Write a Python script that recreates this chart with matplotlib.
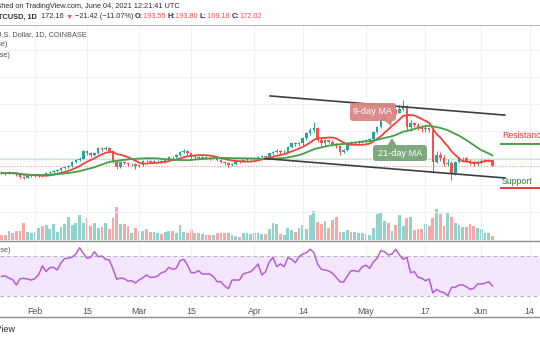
import numpy as np
import pandas as pd
import matplotlib
matplotlib.use("Agg")
import matplotlib.pyplot as plt
from matplotlib.patches import FancyBboxPatch, Polygon

plt.rcParams['font.family'] = ['Liberation Sans', 'DejaVu Sans']

# daily LTCUSD candles, Jan 23 - Jun 4 2021
dates = pd.date_range('2021-01-23', '2021-06-04', freq='D')
opens = [146, 144, 143, 146, 143, 139, 130, 126, 132, 133,
         135, 137, 135, 144, 148, 152, 154, 163, 167, 170,
         185, 193, 198, 226, 219, 211, 219, 237, 233, 237,
         226, 186, 168, 186, 180, 178, 178, 170, 174, 190,
         189, 185, 188, 190, 186, 193, 205, 203, 211, 222,
         226, 217, 205, 205, 201, 205, 201, 199, 201, 193,
         186, 180, 174, 178, 190, 189, 193, 195, 196, 199,
         205, 207, 205, 217, 223, 227, 222, 223, 242, 254,
         252, 254, 273, 292, 304, 312, 267, 254, 267, 260,
         252, 244, 223, 230, 257, 254, 258, 260, 263, 267,
         269, 297, 316, 341, 372, 366, 375, 368, 380, 392,
         314, 329, 322, 316, 306, 310, 304, 186, 211, 199,
         178, 183, 143, 186, 199, 199, 190, 180, 178, 186,
         190, 193, 193.55]
highs = [150, 148, 150, 149, 146, 141, 134, 135, 137, 139,
         141, 140, 147, 151, 156, 158, 166, 172, 175, 190,
         198, 204, 230, 230, 222, 223, 241, 240, 246, 240,
         228, 192, 190, 190, 184, 183, 181, 178, 193, 195,
         193, 192, 194, 194, 196, 208, 209, 214, 226, 232,
         230, 220, 210, 208, 208, 208, 205, 204, 204, 196,
         190, 184, 181, 193, 194, 196, 199, 200, 203, 208,
         211, 210, 220, 226, 232, 230, 228, 245, 258, 260,
         258, 276, 296, 310, 335, 315, 275, 270, 272, 265,
         256, 247, 234, 260, 262, 262, 266, 268, 270, 275,
         300, 320, 346, 378, 380, 382, 380, 395, 415, 395,
         340, 335, 330, 322, 318, 315, 308, 225, 222, 210,
         195, 190, 190, 205, 205, 203, 195, 188, 190, 195,
         196, 198, 193.80]
lows = [140, 138, 141, 139, 135, 126, 121, 124, 128, 130,
        131, 131, 133, 141, 145, 148, 151, 158, 162, 167,
        180, 188, 195, 212, 205, 207, 215, 226, 228, 220,
        180, 158, 164, 176, 172, 172, 160, 166, 171, 184,
        180, 182, 184, 181, 183, 190, 198, 199, 207, 218,
        212, 198, 198, 196, 198, 196, 194, 195, 189, 181,
        175, 168, 170, 175, 183, 185, 189, 191, 192, 195,
        200, 199, 203, 212, 218, 215, 217, 220, 238, 245,
        246, 250, 268, 286, 298, 260, 245, 250, 255, 246,
        238, 212, 220, 226, 248, 250, 253, 256, 258, 262,
        265, 292, 312, 338, 358, 360, 362, 365, 375, 305,
        300, 315, 305, 296, 298, 295, 144, 180, 190, 172,
        170, 118, 138, 180, 190, 186, 175, 170, 172, 181,
        185, 187, 169.18]
closes = [144, 143, 146, 143, 139, 130, 126, 132, 133, 135,
          137, 135, 144, 148, 152, 154, 163, 167, 170, 185,
          193, 198, 226, 219, 211, 219, 237, 233, 237, 226,
          186, 168, 186, 180, 178, 178, 170, 174, 190, 189,
          185, 188, 190, 186, 193, 205, 203, 211, 222, 226,
          217, 205, 205, 201, 205, 201, 199, 201, 193, 186,
          180, 174, 178, 190, 189, 193, 195, 196, 199, 205,
          207, 205, 217, 223, 227, 222, 223, 242, 254, 252,
          254, 273, 292, 304, 312, 267, 254, 267, 260, 252,
          244, 223, 230, 257, 254, 258, 260, 263, 267, 269,
          297, 316, 341, 372, 366, 375, 368, 380, 392, 314,
          329, 322, 316, 306, 310, 304, 186, 211, 199, 178,
          183, 143, 186, 199, 199, 190, 180, 178, 186, 190,
          193, 193.55, 172.02]
# volume, relative units
volume = [5, 5, 9, 7, 9, 9, 17, 8, 7, 8,
          12, 14, 15, 11, 16, 8, 13, 16, 23, 15,
          17, 25, 17, 22, 14, 17, 12, 13, 17, 11,
          22, 33, 16, 16, 14, 7, 12, 9, 9, 11,
          8, 8, 7, 6, 8, 9, 9, 7, 15, 8,
          7, 10, 7, 7, 6, 5, 5, 5, 7, 7,
          7, 7, 5, 4, 3, 7, 7, 6, 7, 7,
          6, 6, 11, 17, 16, 6, 5, 12, 10, 8,
          12, 15, 11, 25, 29, 18, 16, 19, 12, 20,
          23, 8, 8, 10, 8, 8, 7, 7, 6, 5,
          12, 26, 27, 19, 17, 9, 15, 25, 14, 22,
          23, 10, 11, 11, 16, 14, 22, 31, 26, 14,
          27, 23, 17, 15, 13, 13, 16, 14, 12, 11,
          7, 7, 4]
# RSI(14) as shown in the lower pane
rsi = [49.5, 50, 48, 46.3, 41, 47.3, 47.7, 47, 46, 47.3,
       51.5, 60, 54.5, 58.3, 58.7, 56, 63, 67.5, 67.7, 69,
       72, 78.3, 72.7, 67.7, 68.7, 74.3, 69.3, 70, 66.7, 66,
       57, 46.7, 48, 47.3, 45, 45.3, 43, 46, 48.3, 51,
       48.7, 48.7, 50, 53.3, 54.3, 58.7, 56.7, 57.7, 65.3, 66.7,
       61, 53.3, 53.3, 55.3, 52, 52, 52, 49.3, 44.3, 44.3,
       40, 37.3, 46, 46, 46, 52, 53.3, 54.3, 57.7, 62,
       51, 54.3, 64, 68.7, 59.3, 62, 59.3, 68.3, 66.7, 63.3,
       69.3, 72, 73.3, 76.7, 73.3, 62, 56.7, 56, 55, 52.7,
       48.7, 44.3, 44, 50, 55.3, 55.3, 54.3, 59.3, 60.7, 57.7,
       64, 67.7, 75.3, 74.3, 71, 72, 76.7, 71, 66.7, 68.7,
       53.3, 54.3, 48.7, 47.7, 45.3, 47, 33, 36.7, 34.3, 33.3,
       30.3, 38.7, 38.7, 41, 41, 39.3, 36.7, 37.7, 42, 42,
       42.7, 44.3, 40]

# channel lines drawn on the chart (date, price)
upper_line = [('2021-04-05 05:00', 430), ('2021-06-07 08:00', 359)]
lower_line = [('2021-04-03 19:00', 198), ('2021-06-07 08:00', 126)]

tick_dates = ['2021-02-01', '2021-02-15', '2021-03-01', '2021-03-15', '2021-04-01',
              '2021-04-14', '2021-05-01', '2021-05-17', '2021-06-01', '2021-06-14']
tick_labels = ['Feb', '15', 'Mar', '15', 'Apr', '14', 'May', '17', 'Jun', '14']

UP, DOWN = '#26a69a', '#ef5350'
df = pd.DataFrame({'open': opens, 'high': highs, 'low': lows,
                   'close': closes, 'vol': volume, 'rsi': rsi}, index=dates)
df['ma9'] = df['close'].rolling(9, min_periods=1).mean()
df['ma21'] = df['close'].rolling(21, min_periods=1).mean()

W, H = 540, 340
fig = plt.figure(figsize=(W / 100, H / 100), dpi=100)


def px_axes(x0, y0, x1, y1):
    return fig.add_axes([x0 / W, 1 - y1 / H, (x1 - x0) / W, (y1 - y0) / H])


x_lo = dates[0] - pd.Timedelta(days=0.4)
x_hi = dates[0] + pd.Timedelta(days=144.8)

ax = px_axes(0, 25, 540, 240)
ax_r = px_axes(0, 243, 540, 303)
for a in (ax, ax_r):
    a.set_xlim(x_lo, x_hi)
    a.set_xticks(pd.to_datetime(tick_dates))
    a.grid(axis='x', color='#eef2f7', lw=0.8)
    a.tick_params(length=0, labelleft=False, labelright=False, labelbottom=False)
    for s in a.spines.values():
        s.set_visible(False)
    a.set_axisbelow(True)

ax.set_ylim(-104, 693)
ax.set_yticks(range(0, 700, 100))
ax.grid(axis='y', color='#eef2f7', lw=0.8)
ax.spines['top'].set_visible(True)
ax.spines['top'].set_color('#b8bcc4')

# volume overlay
axv = ax.twinx()
axv.set_ylim(0, 215)
axv.axis('off')
up = df['close'] >= df['open']
vcol = np.where(up, UP, DOWN)
axv.bar(df.index, df['vol'], width=0.75, color=vcol, alpha=0.5, lw=0)
axv.set_zorder(ax.get_zorder() - 1)
ax.patch.set_visible(False)

# candles
ccol = np.where(up, UP, DOWN)
ax.vlines(df.index, df['low'], df['high'], colors=ccol, lw=0.7, zorder=3)
body = (df['close'] - df['open']).abs().clip(lower=1.2)
ax.bar(df.index, body, bottom=df[['open', 'close']].min(axis=1), width=0.7,
       color=ccol, lw=0, zorder=4)

ax.plot(df.index, df['ma9'], color='#f44336', lw=1.3, zorder=5)
ax.plot(df.index, df['ma21'], color='#43a047', lw=1.3, zorder=5)

ax.axhline(195, color='#cfe3cf', lw=0.9, zorder=2)
ax.axhline(df['close'].iloc[-1], color='#f0a090', lw=0.8, ls=(0, (1, 1.5)), zorder=2)

for pts in (upper_line, lower_line):
    xs = pd.to_datetime([p[0] for p in pts])
    ys = [p[1] for p in pts]
    ax.plot(xs, ys, color='#3b3e45', lw=1.2, zorder=6)

# RSI pane
ax_r.set_ylim(23, 83)
ax_r.set_yticks([40, 60])
ax_r.grid(axis='y', color='#eef2f7', lw=0.8)
ax_r.axhspan(30, 70, color='#f3e6fc', lw=0)
ax_r.axhline(70, color='#b0b3ba', lw=0.8, ls=(0, (3, 3)))
ax_r.axhline(30, color='#b0b3ba', lw=0.8, ls=(0, (3, 3)))
ax_r.plot(df.index, df['rsi'], color='#b35fcf', lw=1.1)
ax_r.set_xticklabels(tick_labels)
ax_r.tick_params(labelbottom=True, pad=3, labelsize=6.3, labelcolor='#50535e')

# overlay in pixel space for texts and annotations
ov = fig.add_axes([0, 0, 1, 1], zorder=20)
ov.set_xlim(0, W)
ov.set_ylim(H, 0)
ov.axis('off')
ov.patch.set_visible(False)

ov.plot([0, W], [240.5, 240.5], color='#8a8d94', lw=1)
ov.plot([0, W], [317, 317], color='#8a8d94', lw=1)

dark = '#2a2e39'
fs = 5.35
ov.text(180, 6, 'Published on TradingView.com, June 04, 2021 12:21:41 UTC',
        ha='right', va='center', fontsize=fs, color=dark)

fig.canvas.draw()
rend = fig.canvas.get_renderer()
parts = [('LTCUSD, 1D', dark, 'bold'), ('  172.16 ', dark, 'normal'),
         ('▼', DOWN, 'normal'), (' \u221221.42 (\u221211.07%) ', dark, 'normal'),
         ('O:', dark, 'bold'), ('193.55 ', DOWN, 'normal'),
         ('H:', dark, 'bold'), ('193.80 ', DOWN, 'normal'),
         ('L:', dark, 'bold'), ('169.18 ', DOWN, 'normal'),
         ('C:', dark, 'bold'), ('172.02', DOWN, 'normal')]
objs = [ov.text(0, 17, s, color=c, fontweight=w, fontsize=fs, va='center')
        for s, c, w in parts]
widths = [t.get_window_extent(rend).width for t in objs]
xpos = 262 - sum(widths)
for t, wd in zip(objs, widths):
    t.set_x(xpos)
    xpos += wd

grey = '#50535e'
ov.text(87, 35, 'Litecoin / U.S. Dollar, 1D, COINBASE', ha='right', va='center',
        fontsize=fs, color=grey)
ov.text(7, 44.5, 'Vol (20, close)', ha='right', va='center', fontsize=fs, color=grey)
ov.text(10, 55.5, 'MA (9, close)', ha='right', va='center', fontsize=fs, color=grey)
ov.text(10, 250.5, 'RSI (14, close)', ha='right', va='center', fontsize=fs, color=grey)
ov.text(16, 329, 'TradingView', ha='right', va='center', fontsize=6.5, color=dark)

# MA callouts
ov.add_patch(FancyBboxPatch((350, 103), 46, 18, boxstyle='round,pad=0,rounding_size=3',
                            fc='#d98584', ec='none', alpha=0.95))
ov.add_patch(Polygon([[384, 120], [392, 120], [391, 126]], closed=True, fc='#d98584', ec='none'))
ov.text(373, 112, '9-day MA', ha='center', va='center', fontsize=6.6, color='white')
ov.add_patch(FancyBboxPatch((373, 145), 54, 16, boxstyle='round,pad=0,rounding_size=3',
                            fc='#7ea97e', ec='none'))
ov.add_patch(Polygon([[387, 146], [397, 146], [392, 138]], closed=True, fc='#7ea97e', ec='none'))
ov.text(400, 153.5, '21-day MA', ha='center', va='center', fontsize=6.6, color='white')

ov.text(502, 136, 'Resistance', ha='left', va='center', fontsize=6.3, color='#e53935')
ov.plot([501, 540], [143.5, 143.5], color='#43a047', lw=1.4)
ov.text(502, 181.5, 'Support', ha='left', va='center', fontsize=6.3, color='#2e7d32')
ov.plot([501, 540], [188, 188], color='#e53935', lw=1.4)

fig.savefig('out.png', dpi=100)
